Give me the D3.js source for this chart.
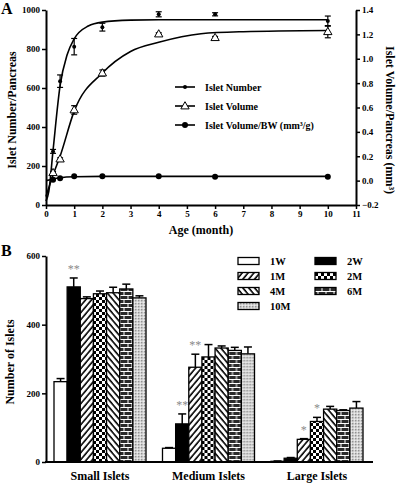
<!DOCTYPE html>
<html><head><meta charset="utf-8">
<script src="https://cdn.jsdelivr.net/npm/d3@7"></script>
<style>
body{margin:0;background:#fff;}
svg text{font-family:"Liberation Serif","Times New Roman",serif;font-weight:bold;}
</style></head>
<body><svg id="c" width="400" height="484"></svg>
<script>
// ---------- Panel A data ----------
const monthTicks = [0,1,2,3,4,5,6,7,8,9,10,11];
const leftTicks = [0,200,400,600,800,1000];
const rightTicks = [-0.2,0,0.2,0.4,0.6,0.8,1.0,1.2,1.4];
const ageMonths = [0.25,0.5,1,2,4,6,10];
const isletNumber = [275,635,812,912,978,978,943];
const isletNumberErr = [10,32,42,20,13,8,26];
const isletVolume = [0.065,0.177,0.58,0.883,1.203,1.173,1.222];
const isletVolumeErr = [0.01,0.01,0.035,0.025,0.01,0.01,0.05];
const volumePerBW = [0.008,0.02,0.035,0.035,0.035,0.032,0.032];
// fitted curves: [month, value]
const numberFit = [[0,20],[0.1,70],[0.25,280],[0.5,612],[0.75,770],[1,852],[1.5,918],[2,938],[3,948],[4,950],[6,950],[10,950]];
const volumeFit = [[0,-0.13],[0.25,0.046],[0.5,0.2],[1,0.57],[2,0.883],[3,1.06],[4,1.135],[5.5,1.205],[7,1.222],[10,1.232]];
const bwFit = [[0,0.0],[0.25,0.014],[0.5,0.024],[1,0.032],[2,0.035],[10,0.035]];
const legendA = ["Islet Number","Islet Volume","Islet Volume/BW (mm³/g)"];

// ---------- Panel B data ----------
const groups = ["Small Islets","Medium Islets","Large Islets"];
const seriesB = ["1W","2W","1M","2M","4M","6M","10M"];
const smallVals = [234,510,476,490,493,504,478];
const smallErr = [9,26,5,8,16,14,6];
const mediumVals = [40,111,276,306,332,325,315];
const mediumErr = [2,29,38,36,6,9,20];
const largeVals = [2,11,66,118,154,150,157];
const largeErr = [1,2,2,12,8,2,19];
const bTicks = [0,200,400,600];
const starGroups = ["Small Islets","Medium Islets","Medium Islets","Large Islets","Large Islets"];
const starSeries = ["2W","2W","1M","1M","2M"];
const starLabels = ["**","**","**","*","*"];

const FONT = "Liberation Serif, Times New Roman, serif";
const svg = d3.select("#c");
const defs = svg.append("defs");

// patterns
function hatch(id, angle){
  const p = defs.append("pattern").attr("id",id).attr("width",4.5).attr("height",4.5)
    .attr("patternUnits","userSpaceOnUse").attr("patternTransform",`rotate(${angle})`);
  p.append("rect").attr("width",4.5).attr("height",4.5).attr("fill","#fff");
  p.append("line").attr("x1",1).attr("x2",1).attr("y1",0).attr("y2",4.5).attr("stroke","#000").attr("stroke-width",1.6);
}
hatch("p1M",40); hatch("p4M",-40);
{
  const p = defs.append("pattern").attr("id","p2M").attr("width",6).attr("height",6).attr("patternUnits","userSpaceOnUse");
  p.append("rect").attr("width",6).attr("height",6).attr("fill","#fff");
  p.append("rect").attr("width",3).attr("height",3).attr("fill","#000");
  p.append("rect").attr("x",3).attr("y",3).attr("width",3).attr("height",3).attr("fill","#000");
}
{
  const p = defs.append("pattern").attr("id","p6M").attr("width",8).attr("height",8).attr("patternUnits","userSpaceOnUse");
  p.append("rect").attr("width",8).attr("height",8).attr("fill","#2a2a2a");
  p.append("rect").attr("y",3).attr("width",8).attr("height",1).attr("fill","#fff");
  p.append("rect").attr("y",7).attr("width",8).attr("height",1).attr("fill","#fff");
  p.append("rect").attr("x",1.5).attr("y",0).attr("width",1).attr("height",3).attr("fill","#fff");
  p.append("rect").attr("x",5.5).attr("y",4).attr("width",1).attr("height",3).attr("fill","#fff");
}
{
  const p = defs.append("pattern").attr("id","p10M").attr("width",3).attr("height",3).attr("patternUnits","userSpaceOnUse");
  p.append("rect").attr("width",3).attr("height",3).attr("fill","#d8d8d8");
  p.append("circle").attr("cx",0.8).attr("cy",0.8).attr("r",0.7).attr("fill","#7a7a7a");
  p.append("circle").attr("cx",2.3).attr("cy",2.3).attr("r",0.5).attr("fill","#fff");
}
const fills = {"1W":"#fff","2W":"#000","1M":"url(#p1M)","2M":"url(#p2M)","4M":"url(#p4M)","6M":"url(#p6M)","10M":"url(#p10M)"};

function styleAxis(g, fs){
  g.attr("font-family",FONT);
  g.select(".domain").attr("stroke","#000").attr("stroke-width",2);
  g.selectAll(".tick line").attr("stroke","#000").attr("stroke-width",1.5);
  g.selectAll(".tick text").attr("font-size",fs).attr("font-weight","bold").attr("fill","#000")
    .attr("font-family",FONT);
}

// ================= Panel A =================
const xA = d3.scaleLinear().domain([0,11]).range([46,356]);
const yL = d3.scaleLinear().domain([0,1000]).range([205,10]);
const yR = d3.scaleLinear().domain([-0.2,1.4]).range([205,10]);

const gA = svg.append("g");
gA.append("g").attr("transform","translate(46,0)")
  .call(d3.axisLeft(yL).tickValues(leftTicks).tickSize(4).tickSizeOuter(0).tickPadding(2).tickFormat(d3.format("d")))
  .call(g=>styleAxis(g,9));
gA.append("g").attr("transform","translate(356,0)")
  .call(d3.axisRight(yR).tickValues(rightTicks).tickSize(4).tickSizeOuter(0).tickPadding(2).tickFormat(d3.format(".1f")))
  .call(g=>styleAxis(g,9));
gA.append("g").attr("transform","translate(0,205)")
  .call(d3.axisBottom(xA).tickValues(monthTicks).tickSize(4).tickSizeOuter(0).tickPadding(2).tickFormat(d3.format("d")))
  .call(g=>styleAxis(g,9));

const lineL = d3.line().x(d=>xA(d[0])).y(d=>yL(d[1])).curve(d3.curveMonotoneX);
const lineR = d3.line().x(d=>xA(d[0])).y(d=>yR(d[1])).curve(d3.curveMonotoneX);
gA.append("path").attr("d",lineL(numberFit)).attr("fill","none").attr("stroke","#000").attr("stroke-width",1.6);
gA.append("path").attr("d",lineR(volumeFit)).attr("fill","none").attr("stroke","#000").attr("stroke-width",1.6);
gA.append("path").attr("d",lineR(bwFit)).attr("fill","none").attr("stroke","#000").attr("stroke-width",1.6);

function errA(x, yTop, yBot){
  gA.append("line").attr("x1",x).attr("x2",x).attr("y1",yTop).attr("y2",yBot).attr("stroke","#000").attr("stroke-width",1.2);
  [yTop,yBot].forEach(y=>gA.append("line").attr("x1",x-3).attr("x2",x+3).attr("y1",y).attr("y2",y).attr("stroke","#000").attr("stroke-width",1.2));
}
ageMonths.forEach((t,i)=>{
  errA(xA(t), yL(isletNumber[i]+isletNumberErr[i]), yL(isletNumber[i]-isletNumberErr[i]));
  errA(xA(t), yR(isletVolume[i]+isletVolumeErr[i]), yR(isletVolume[i]-isletVolumeErr[i]));
});
const tri = d3.symbol().type(d3.symbolTriangle).size(30);
gA.selectAll(".num").data(ageMonths).join("circle").attr("cx",d=>xA(d)).attr("cy",(d,i)=>yL(isletNumber[i])).attr("r",2).attr("fill","#000");
gA.selectAll(".vol").data(ageMonths).join("path").attr("d",tri)
  .attr("transform",(d,i)=>`translate(${xA(d)},${yR(isletVolume[i])+0.5})`).attr("fill","#fff").attr("stroke","#000").attr("stroke-width",1);
gA.selectAll(".bw").data(ageMonths).join("circle").attr("cx",d=>xA(d)).attr("cy",(d,i)=>yR(volumePerBW[i])).attr("r",3).attr("fill","#000");

// legend A
const legY = [87,106,125];
legendA.forEach((lab,i)=>{
  const y = legY[i];
  gA.append("line").attr("x1",175).attr("x2",195).attr("y1",y).attr("y2",y).attr("stroke","#000").attr("stroke-width",1.6);
  if(i===0) gA.append("circle").attr("cx",185).attr("cy",y).attr("r",2).attr("fill","#000");
  if(i===1) gA.append("path").attr("d",tri).attr("transform",`translate(185,${y+0.5})`).attr("fill","#fff").attr("stroke","#000");
  if(i===2) gA.append("circle").attr("cx",185).attr("cy",y).attr("r",3).attr("fill","#000");
  gA.append("text").attr("x",205).attr("y",y+3.5).attr("font-size",10).text(lab);
});

gA.append("text").attr("transform","translate(16,110) rotate(-90)").attr("text-anchor","middle").attr("font-size",12).text("Islet Number/Pancreas");
gA.append("text").attr("transform","translate(386,120) rotate(90)").attr("text-anchor","middle").attr("font-size",12).text("Islet Volume/Pancreas (mm³)");
gA.append("text").attr("x",201).attr("y",234).attr("text-anchor","middle").attr("font-size",12).text("Age (month)");
svg.append("text").attr("x",1).attr("y",14).attr("font-size",16).text("A");

// ================= Panel B =================
const valsB = [smallVals, mediumVals, largeVals];
const errsB = [smallErr, mediumErr, largeErr];
const x0 = d3.scaleBand().domain(groups).range([54,363]).paddingInner(0.152).paddingOuter(0);
const x1 = d3.scaleBand().domain(seriesB).range([0,x0.bandwidth()]);
const yB = d3.scaleLinear().domain([0,600]).range([462,256]);

const gB = svg.append("g");
groups.forEach((g,gi)=>{
  const gg = gB.append("g").attr("transform",`translate(${x0(g)},0)`);
  seriesB.forEach((s,si)=>{
    const v = valsB[gi][si], e = errsB[gi][si];
    const bx = x1(s), bw = x1.bandwidth(), cx = bx + bw/2;
    gg.append("line").attr("x1",cx).attr("x2",cx).attr("y1",yB(v)).attr("y2",yB(v+e)).attr("stroke","#000").attr("stroke-width",1.5);
    gg.append("line").attr("x1",cx-4).attr("x2",cx+4).attr("y1",yB(v+e)).attr("y2",yB(v+e)).attr("stroke","#000").attr("stroke-width",1.5);
    gg.append("rect").attr("x",bx).attr("y",yB(v)).attr("width",bw).attr("height",yB(0)-yB(v))
      .attr("fill",fills[s]).attr("stroke","#000").attr("stroke-width",1.3);
  });
});
starLabels.forEach((lab,i)=>{
  const gi = groups.indexOf(starGroups[i]), si = seriesB.indexOf(starSeries[i]);
  const v = valsB[gi][si] + errsB[gi][si];
  gB.append("text").attr("x",x0(starGroups[i])+x1(starSeries[i])+x1.bandwidth()/2).attr("y",yB(v)-5)
    .attr("text-anchor","middle").attr("font-size",12).style("font-weight","normal").attr("fill","#8a8a8a").text(lab);
});

gB.append("g").attr("transform","translate(46,0)")
  .call(d3.axisLeft(yB).tickValues(bTicks).tickSize(4).tickSizeOuter(0).tickPadding(2).tickFormat(d3.format("d")))
  .call(g=>styleAxis(g,9));
gB.append("line").attr("x1",45).attr("x2",373).attr("y1",462).attr("y2",462).attr("stroke","#000").attr("stroke-width",2);
groups.forEach(g=>{
  gB.append("text").attr("x",x0(g)+x0.bandwidth()/2).attr("y",480).attr("text-anchor","middle").attr("font-size",12).text(g);
});
gB.append("text").attr("transform","translate(14,362) rotate(-90)").attr("text-anchor","middle").attr("font-size",12).text("Number of Islets");
svg.append("text").attr("x",1).attr("y",256).attr("font-size",16).text("B");

// legend B
const legRowY = [261,276,291,306];
seriesB.forEach((s,i)=>{
  const col = i===6 ? 0 : i%2, row = Math.floor(i/2);
  const sx = col===0 ? 238 : 315, y = legRowY[row];
  gB.append("rect").attr("x",sx).attr("y",y-3.5).attr("width",21).attr("height",7).attr("fill",fills[s]).attr("stroke","#000").attr("stroke-width",1.3);
  gB.append("text").attr("x",sx+32).attr("y",y+4).attr("font-size",10.5).text(s);
});
</script></body></html>
